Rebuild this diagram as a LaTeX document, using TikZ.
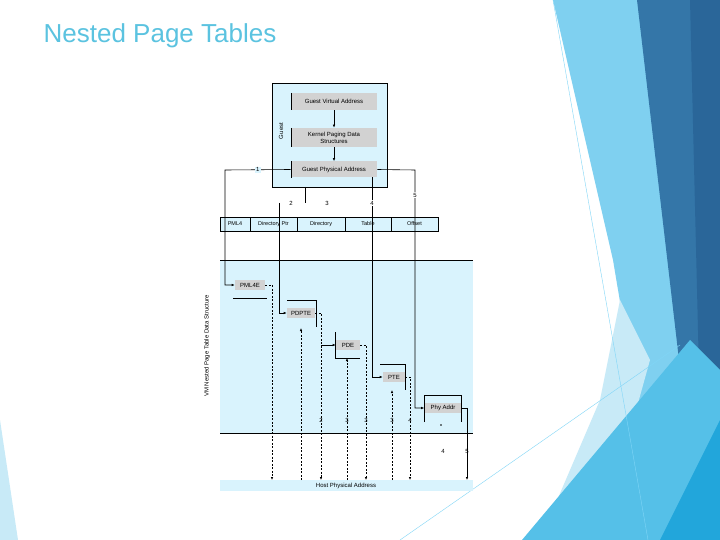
\documentclass[tikz,border=0pt]{standalone}
\usepackage{fontspec}
\setmainfont{Liberation Sans}
\usetikzlibrary{arrows.meta}
\definecolor{dkA}{HTML}{3476A8}
\definecolor{dkB}{HTML}{2A6699}
\definecolor{ltA}{HTML}{7FD0F0}
\definecolor{paleA}{HTML}{C8EAF7}
\definecolor{midA}{HTML}{55C0E8}
\definecolor{midB}{HTML}{22A6DB}
\definecolor{titlec}{HTML}{5BC3E0}
\begin{document}
\begin{tikzpicture}[x=1pt,y=-1pt,line width=0.6pt,
  lbl/.style={font=\fontsize{6}{7}\selectfont,inner sep=0pt},
  gbox/.style={fill=gray!35,inner sep=0pt,font=\fontsize{6}{7}\selectfont,align=center},
  cell/.style={draw,fill=cyan!15,minimum height=14pt,inner sep=0pt,font=\fontsize{5.5}{6.5}\selectfont},
  arr/.style={-{Latex[length=3pt,width=2.5pt]}},
  dsh/.style={dashed,dash pattern=on 2pt off 1.5pt}]
\useasboundingbox (0,0) rectangle (720,540);
\fill[white] (0,0) rectangle (720,540);
% decoration
\fill[ltA] (553,0) -- (640,0) -- (700,540) -- (660,540) -- (613,260) -- cycle;
\fill[paleA] (620,300) -- (650,360) -- (600,540) -- (540,540) -- (600,400) -- cycle;
\fill[dkA] (637,0) -- (720,0) -- (720,540) -- (700,540) -- cycle;
\fill[dkB] (690,0) -- (720,0) -- (720,380) -- (700,413) -- cycle;
\fill[midA] (522,540) -- (690,340) -- (720,370) -- (720,540) -- cycle;
\fill[midB] (660,540) -- (720,420) -- (720,540) -- cycle;
\draw[cyan!50,line width=0.4pt] (553,0) -- (648,540);
\draw[cyan!50,line width=0.4pt] (400,540) -- (680,345);
\fill[paleA] (0,420) -- (18,540) -- (0,540) -- cycle;
\node[anchor=west,text=titlec,font=\fontsize{26}{28}\selectfont] (title) at (40,36) {Nested Page Tables};
% guest box
\draw[fill=cyan!15] (272,83) rectangle (387,187);
\node[lbl,rotate=90] (guest) at (281,131) {Guest};
\node[gbox,minimum width=86pt,minimum height=17pt] (gva) at (334,101.5) {Guest Virtual Address};
\node[gbox,minimum width=86pt,minimum height=19pt] (kpds) at (334,137.5) {Kernel Paging Data\\Structures};
\node[gbox,minimum width=86pt,minimum height=16pt] (gpa) at (334,169.5) {Guest Physical Address};
\draw (291,93) -- (291,110); \draw (291,128) -- (291,147); \draw (291,161) -- (291,178);
\draw[arr] (gva) -- (kpds);
\draw[arr] (kpds) -- (gpa);
% fields
\node[cell,minimum width=30pt] (f1) at (235,224) {PML4};
\node[cell,minimum width=47pt] (f2) at (273.5,224) {Directory Ptr};
\node[cell,minimum width=48pt] (f3) at (321,224) {Directory};
\node[cell,minimum width=46pt] (f4) at (368,224) {Table};
\node[cell,minimum width=47pt] (f5) at (414.5,224) {Offset};
% lower region
\fill[cyan!15] (220,260) rectangle (473,433);
\draw (220,260) -- (473,260);
\draw (220,433) -- (473,433);
\draw (220,480) -- (473,480);
\fill[cyan!15] (220,480) rectangle (473,491);
\node[lbl] (hpa) at (346,486) {Host Physical Address};
\node[lbl,rotate=90] (vmlbl) at (207,346) {VM Nested Page Table Data Structure};
% tables
\node[gbox,minimum width=30pt,minimum height=10pt] (pml4e) at (250,285) {PML4E};
\draw (233,298) -- (267,298);
\node[gbox,minimum width=28pt,minimum height=10pt] (pdpte) at (301,313) {PDPTE};
\draw (287,300) -- (316,300) -- (316,327);
\node[gbox,minimum width=24pt,minimum height=10pt] (pde) at (348,345) {PDE};
\draw (335,332) -- (335,358) -- (360,358);
\node[gbox,minimum width=22pt,minimum height=10pt] (pte) at (394,377) {PTE};
\draw (380,364) -- (405,364) -- (405,390);
\node[gbox,minimum width=37pt,minimum height=10pt] (phy) at (443,408) {Phy Addr};
\draw (424,422) -- (424,395) -- (461,395) -- (461,422);
% solid connectors
\coordinate (c1) at (225,170);
\draw[arr] (gpa.west) -- node[lbl,fill=cyan!15,inner sep=1pt] {1} (c1) |- (pml4e.west);
\coordinate (c2a) at (305,187); \coordinate (c2b) at (305,203);
\draw (c2a) -- (c2b);
\coordinate (c3) at (279,203);
\draw[arr] (c3) |- (pdpte.west);
\draw[arr] (372,177.5) |- (pte.west);
\coordinate (c5) at (415,170);
\draw[arr] (gpa.east) -- (c5) |- (phy.west);
\draw[arr] (321,345) -- (pde.west);
\node[lbl] (n2) at (291,203) {2};
\node[lbl] (n3) at (327,203) {3};
\node[lbl,fill=white,inner sep=1pt] (n4) at (372,203) {4};
\node[lbl,fill=white,inner sep=1pt] (n5) at (415,195) {5};
% dashed down arrows
\draw[dsh,arr] (pml4e.east) -| (272,480);
\draw[dsh,arr] (pdpte.east) -| (321,480);
\draw[dsh,arr] (pde.east) -| (366,480);
\draw[dsh,arr] (pte.east) -| (410,480);
% dashed up arrows
\draw[dsh,arr] (301,480) -- (301,328);
\draw[dsh,arr] (347,480) -- (347,358);
\draw[dsh,arr] (392,480) -- (392,390);
% final
\draw[arr] (phy.east) -| (467,480);
\node[lbl] at (321,420) {2};
\node[lbl] at (347,420) {3};
\node[lbl] at (366,420) {3};
\node[lbl] at (392,420) {3};
\node[lbl] at (410,420) {4};
\fill (441,425) circle (0.8pt);
\node[lbl] at (443,451) {4};
\node[lbl] at (467,451) {5};
\end{tikzpicture}
\end{document}
